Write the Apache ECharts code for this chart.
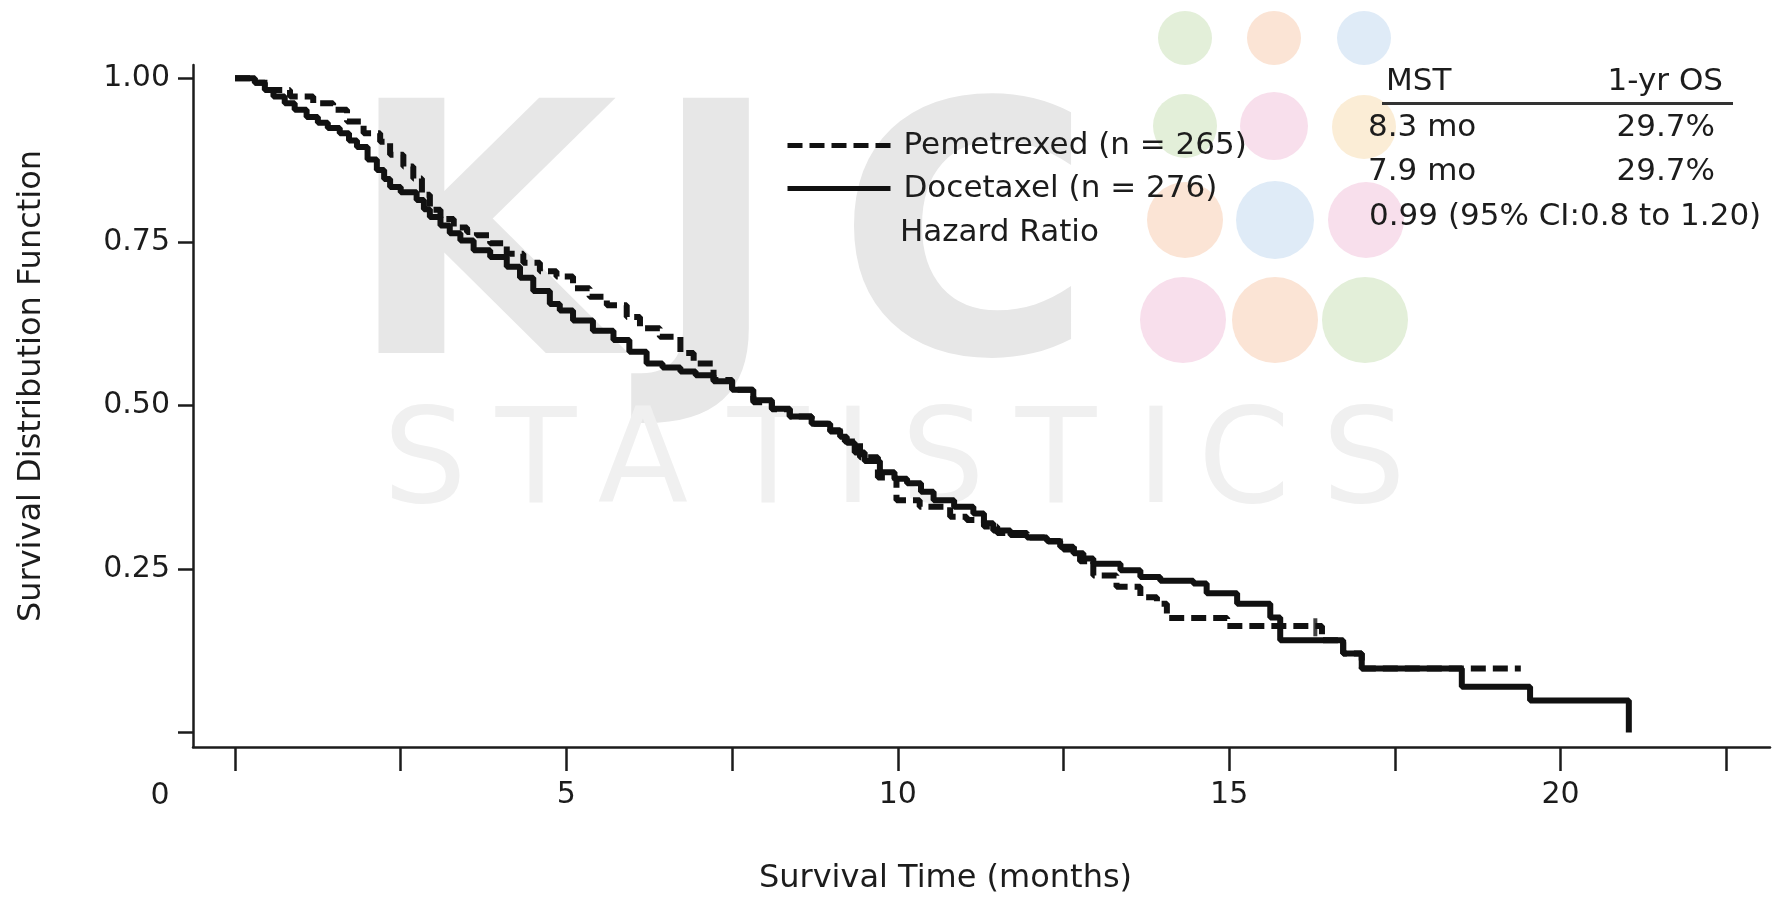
<!DOCTYPE html>
<html>
<head>
<meta charset="utf-8">
<title>Survival Distribution Function</title>
<script src="https://cdn.jsdelivr.net/npm/echarts@6/dist/echarts.min.js"></script>
<style>
  html, body { margin: 0; padding: 0; background: #fff; }
  #chart { width: 1787px; height: 897px; }
</style>
</head>
<body>
<div id="chart"></div>
<script>
// Pemetrexed (dashed) Kaplan-Meier steps
const pemTime = [0, 0.3, 0.5, 0.83, 1.18, 1.48, 1.69, 1.94, 2.19, 2.34, 2.54, 2.69, 2.82, 2.94,
  3.1, 3.3, 3.5, 3.65, 3.85, 4.1, 4.35, 4.6, 4.85, 5.1, 5.35, 5.61, 5.91, 6.11, 6.41, 6.72, 6.92,
  7.22, 7.5, 7.82, 8.1, 8.37, 8.7, 8.98, 9.2, 9.43, 9.7, 9.98, 10.33, 10.79, 11.04, 11.3, 11.5,
  11.95, 12.25, 12.5, 12.75, 12.95, 13.3, 13.66, 13.91, 14.06, 14.97, 16.4, 16.72, 17.0, 19.4]
const pemSurv = [1.0, 0.993, 0.982, 0.972, 0.962, 0.952, 0.934, 0.916, 0.903, 0.883, 0.865, 0.847, 0.822, 0.799,
  0.785, 0.772, 0.765, 0.76, 0.748, 0.732, 0.718, 0.705, 0.697, 0.679, 0.666, 0.653, 0.635, 0.618, 0.605, 0.58, 0.564,
  0.539, 0.524, 0.505, 0.494, 0.483, 0.472, 0.46, 0.445, 0.421, 0.39, 0.355, 0.345, 0.33, 0.325, 0.315, 0.305,
  0.298, 0.292, 0.28, 0.262, 0.24, 0.223, 0.207, 0.197, 0.175, 0.163, 0.141, 0.121, 0.098, 0.098]

// Docetaxel (solid)
const docTime = [0, 0.3, 0.45, 0.58, 0.75, 0.9, 1.08, 1.25, 1.4, 1.58, 1.72, 1.84, 2.0, 2.14, 2.25, 2.34,
  2.5, 2.74, 2.85, 2.94, 3.1, 3.24, 3.4, 3.6, 3.85, 4.1, 4.3, 4.5, 4.75, 4.9, 5.1, 5.4, 5.71, 5.95,
  6.21, 6.45, 6.72, 6.95, 7.22, 7.5, 7.82, 8.1, 8.37, 8.7, 8.98, 9.13, 9.23, 9.35, 9.5, 9.73, 9.95,
  10.14, 10.35, 10.54, 10.85, 11.14, 11.3, 11.44, 11.7, 11.95, 12.25, 12.45, 12.65, 12.8, 12.95,
  13.36, 13.66, 13.96, 14.46, 14.66, 15.12, 15.62, 15.77, 16.72, 17.0, 18.51, 19.54, 21.03]
const docSurv = [1.0, 0.993, 0.982, 0.972, 0.962, 0.952, 0.941, 0.932, 0.924, 0.916, 0.905, 0.895, 0.876, 0.86, 0.846, 0.834,
  0.826, 0.814, 0.8, 0.788, 0.775, 0.763, 0.752, 0.737, 0.727, 0.712, 0.695, 0.675, 0.655, 0.645, 0.63, 0.614, 0.6, 0.582,
  0.564, 0.558, 0.552, 0.546, 0.537, 0.524, 0.508, 0.495, 0.483, 0.472, 0.462, 0.452, 0.443, 0.428, 0.415, 0.398, 0.388,
  0.381, 0.368, 0.355, 0.345, 0.335, 0.32, 0.309, 0.302, 0.298, 0.293, 0.284, 0.274, 0.266, 0.258,
  0.248, 0.238, 0.232, 0.228, 0.213, 0.197, 0.176, 0.141, 0.121, 0.098, 0.07, 0.049, 0.0]

// censored mark on the Pemetrexed curve
const pemCensorTime = [16.3]
const pemCensorSurv = [0.161]

const timeTicks = [0, 2.5, 5, 7.5, 10, 12.5, 15, 17.5, 20, 22.5]
const timeLabels = [5, 10, 15, 20]
const survTicks = [0, 0.25, 0.5, 0.75, 1]
const survLabels = [0.25, 0.5, 0.75, 1]

const seriesNames = ['Pemetrexed (n = 265)', 'Docetaxel (n = 276)']
const tableHead = ['MST', '1-yr OS']
const mstValues = ['8.3 mo', '7.9 mo']
const osValues = ['29.7%', '29.7%']
const hazardText = '0.99 (95% CI:0.8 to 1.20)'

const font = 'DejaVu Sans'
const ink = '#1c1c1c'

function pairs (xs, ys) {
  return xs.map((x, i) => [x, ys[i]])
}

function label (text, x, y, align, size) {
  return {
    type: 'text',
    z: 5,
    style: {
      text: text,
      x: x,
      y: y,
      fill: ink,
      font: (size || 31) + 'px "' + font + '"',
      align: align || 'left',
      textAlign: align || 'left',
      verticalAlign: 'middle',
      textVerticalAlign: 'middle'
    }
  }
}

function dot (cx, cy, r, color) {
  return { type: 'circle', z: -20, silent: true, shape: { cx: cx, cy: cy, r: r }, style: { fill: color } }
}

function mark (text, x, y, size, weight, color) {
  return {
    type: 'text',
    z: -10,
    silent: true,
    style: {
      text: text,
      x: x,
      y: y,
      fill: color,
      font: weight + ' ' + size + 'px "' + font + '"',
      align: 'center',
      textAlign: 'center',
      verticalAlign: 'middle',
      textVerticalAlign: 'middle'
    }
  }
}

const green = '#e3efd9'
const peach = '#fbe4d5'
const blue = '#dfebf7'
const pink = '#f8dfec'
const yellow = '#fbedd6'

const watermark = [
  dot(1185, 38, 27, green), dot(1274, 38, 27, peach), dot(1364, 38, 27, blue),
  dot(1185, 126, 32, green), dot(1274, 126, 34, pink), dot(1364, 127, 32, yellow),
  dot(1185, 220, 38, peach), dot(1275, 220, 39, blue), dot(1366, 220, 38, pink),
  dot(1183, 320, 43, pink), dot(1275, 320, 43, peach), dot(1365, 320, 43, green),
  mark('K', 482, 262, 350, 'bold', '#e7e7e7'),
  mark('J', 716, 262, 350, 'bold', '#e7e7e7'),
  mark('C', 965, 262, 350, 'bold', '#e7e7e7')
]
const statLetters = 'STATISTICS'.split('')
const statCenters = [425, 536, 643, 768, 853, 943, 1056, 1156, 1244, 1364]
statLetters.forEach((ch, i) => {
  watermark.push(mark(ch, statCenters[i], 468, 132, 'normal', '#f0f0f0'))
})

const chart = echarts.init(document.getElementById('chart'))
const option = {
  backgroundColor: '#ffffff',
  animation: false,
  textStyle: { fontFamily: font, color: ink },
  grid: { left: 193, right: 17, top: 65, bottom: 150, outerBoundsMode: 'none', containLabel: false },
  legend: {
    data: seriesNames,
    orient: 'vertical',
    left: 785,
    top: 130,
    padding: 0,
    itemWidth: 103,
    itemHeight: 14,
    itemGap: 12,
    selectedMode: false,
    itemStyle: { opacity: 0 },
    lineStyle: { width: 5 },
    textStyle: { fontSize: 31, color: ink, fontFamily: font, padding: [0, 0, 0, 8] }
  },
  xAxis: {
    type: 'value',
    min: -0.634,
    max: 23.16,
    name: 'Survival Time (months)',
    nameLocation: 'middle',
    nameGap: 116,
    nameTextStyle: { fontSize: 32, color: ink, fontFamily: font, padding: [0, 72, 0, 0] },
    axisLine: { show: true, onZero: false, lineStyle: { color: ink, width: 2.5 } },
    axisTick: { show: true, length: 24, customValues: timeTicks, lineStyle: { color: ink, width: 2.5 } },
    axisLabel: { fontSize: 30, color: ink, margin: 33, customValues: timeLabels },
    splitLine: { show: false }
  },
  yAxis: {
    type: 'value',
    min: -0.022,
    max: 1.0203,
    name: 'Survival Distribution Function',
    nameLocation: 'middle',
    nameRotate: 90,
    nameGap: 145,
    nameTextStyle: { fontSize: 32, color: ink, fontFamily: font, padding: [0, 0, 0, 40] },
    axisLine: { show: true, onZero: false, lineStyle: { color: ink, width: 2.5 } },
    axisTick: { show: true, length: 15, customValues: survTicks, lineStyle: { color: ink, width: 2.5 } },
    axisLabel: {
      fontSize: 30,
      color: ink,
      margin: 23,
      customValues: survLabels,
      formatter: v => v.toFixed(2)
    },
    splitLine: { show: false }
  },
  graphic: watermark.concat([
    // the origin label sits left of the first tick in the original
    label('0', 160, 796, 'center', 30),
    label('Hazard Ratio', 900, 233),
    label(tableHead[0], 1386, 82),
    label(tableHead[1], 1723, 82, 'right'),
    {
      type: 'line',
      z: 5,
      shape: { x1: 1382, y1: 103.5, x2: 1733, y2: 103.5 },
      style: { stroke: '#333', lineWidth: 3 }
    },
    label(mstValues[0], 1368, 128),
    label(osValues[0], 1715, 128, 'right'),
    label(mstValues[1], 1368, 172),
    label(osValues[1], 1715, 172, 'right'),
    label(hazardText, 1369, 217)
  ]),
  series: [
    {
      name: seriesNames[0],
      type: 'line',
      step: 'end',
      symbol: 'none',
      showSymbol: false,
      z: 3,
      lineStyle: { color: '#111', width: 6, type: [15, 7] },
      itemStyle: { color: '#111' },
      data: pairs(pemTime, pemSurv)
    },
    {
      name: seriesNames[1],
      type: 'line',
      step: 'end',
      symbol: 'none',
      showSymbol: false,
      z: 4,
      lineStyle: { color: '#111', width: 6, type: 'solid' },
      itemStyle: { color: '#111' },
      data: pairs(docTime, docSurv)
    },
    {
      name: 'censored',
      type: 'scatter',
      symbol: 'rect',
      symbolSize: [4, 18],
      z: 3,
      itemStyle: { color: '#111' },
      data: pairs(pemCensorTime, pemCensorSurv)
    }
  ]
}
chart.setOption(option)
</script>
</body>
</html>
